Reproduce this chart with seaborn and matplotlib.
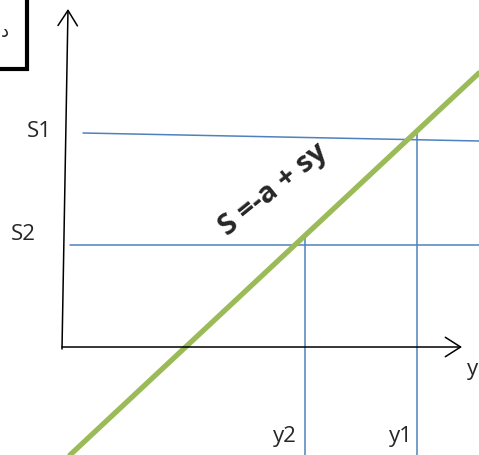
import numpy as np
import pandas as pd
import matplotlib.pyplot as plt
import seaborn as sns

sns.set_style('white')
plt.rcParams['font.family'] = ['Open Sans', 'DejaVu Sans']

# diagram coordinates (pixel-like units, y grows downward)
green_x = [70, 479]
green_y = [456, 74]
s1_x = [83, 479]
s1_y = [134, 142]
s2_x = [70, 479]
s2_y = [246, 246]
y2_x = [305, 305]
y2_y = [238, 456]
y1_x = [417, 417]
y1_y = [130, 456]

blue = '#4F81BD'
green = '#9BBB59'

fig = plt.figure(figsize=(4.79, 4.56), dpi=100)
ax = fig.add_axes([0, 0, 1, 1])
ax.set_xlim(0, 479)
ax.set_ylim(456, 0)
ax.axis('off')

# blue guide lines
for xs, ys in [(s1_x, s1_y), (s2_x, s2_y), (y2_x, y2_y), (y1_x, y1_y)]:
    sns.lineplot(x=xs, y=ys, color=blue, lw=1.1, sort=False, estimator=None, ax=ax)

# the S line
sns.lineplot(x=green_x, y=green_y, color=green, lw=3.8, sort=False, estimator=None, ax=ax)

# axes with open arrow heads
arr = dict(arrowstyle='->,head_length=0.55,head_width=0.35', color='black', lw=1.1,
           mutation_scale=20, shrinkA=0, shrinkB=0)
ax.annotate('', xy=(68, 10), xytext=(62, 350), arrowprops=arr)
ax.annotate('', xy=(462, 348), xytext=(62, 348), arrowprops=arr)

# box in the corner
ax.add_patch(plt.Rectangle((-20, -20), 47.5, 89.5, fill=False, lw=3, ec='black', clip_on=False))
ax.text(1, 32, 'د', fontsize=13, ha='left', va='center', family=['DejaVu Sans'])

# labels
ax.text(39, 132, 'S1', fontsize=16, ha='center', va='center')
ax.text(23, 235, 'S2', fontsize=16, ha='center', va='center')
ax.text(285, 437, 'y2', fontsize=16, ha='center', va='center')
ax.text(401, 437, 'y1', fontsize=16, ha='center', va='center')
ax.text(473, 370, 'y', fontsize=16, ha='center', va='center')
ax.text(273, 190, 'S =-a + sy', fontsize=21, fontweight='bold', rotation=39,
        ha='center', va='center', rotation_mode='anchor')

fig.savefig('out.png', dpi=100)
